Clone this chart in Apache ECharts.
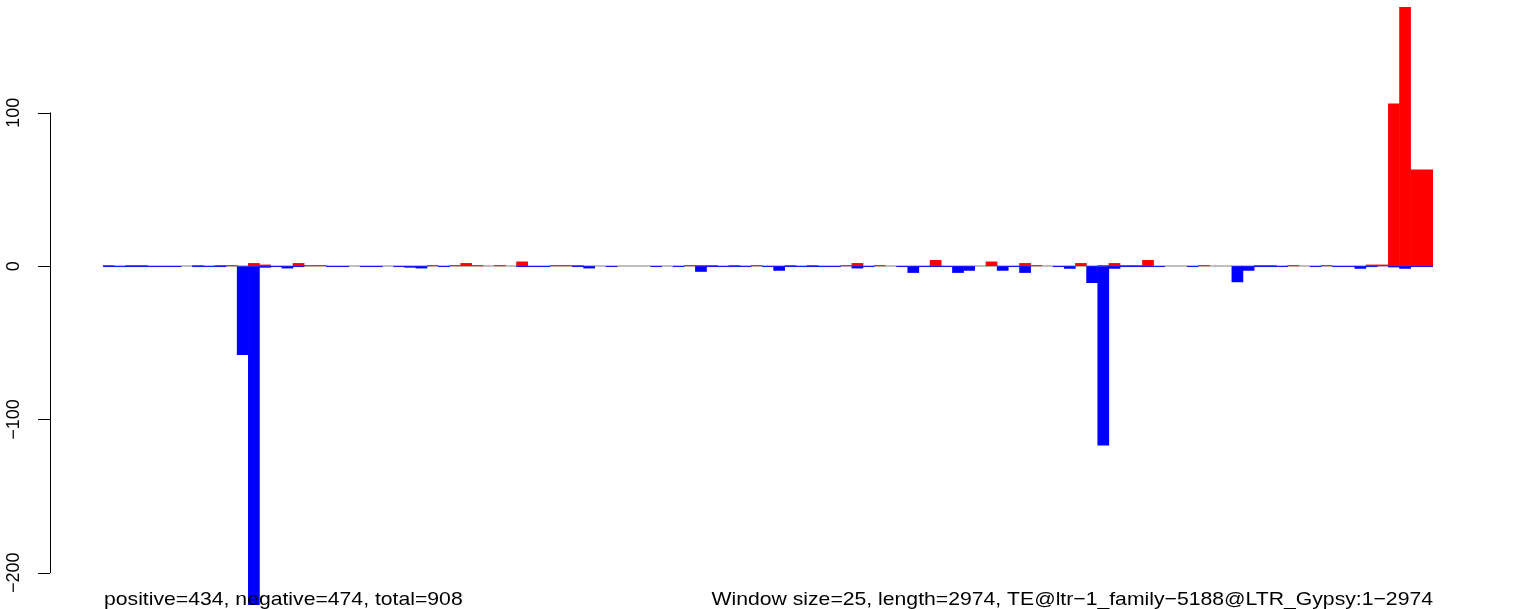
<!DOCTYPE html>
<html>
<head>
<meta charset="utf-8">
<script src="https://cdn.jsdelivr.net/npm/echarts@6/dist/echarts.min.js"></script>
<style>
  html, body { margin: 0; padding: 0; background: #fff; }
  #chart { width: 1536px; height: 609px; }
</style>
</head>
<body>
<div id="chart"></div>
<script>
// ---- data (one bar per 25 bp window, 119 windows) ----
const windowSize = 25;
const teLength = 2974;
const teName = 'TE@ltr\u22121_family\u22125188@LTR_Gypsy:1\u22122974';
const positiveTotal = 434;
const negativeTotal = 474;
const totalReads = 908;

const positiveCounts = [
  0.6, 0, 0.6, 0.6, 0, 0, 0, 0, 0.6, 0,
  0.6, 0.6, 0, 2, 1, 0, 0, 2, 0.6, 0.6,
  0, 0, 0, 0, 0, 0, 0, 0, 0, 0.6,
  0, 0.6, 2, 0.6, 0, 0.6, 0, 3, 0, 0,
  0.6, 0.6, 0.6, 0, 0, 0, 0, 0, 0, 0,
  0, 0, 0.6, 0.6, 0.6, 0, 0.6, 0, 0.6, 0,
  0, 0.6, 0, 0.6, 0, 0, 0.6, 2, 0, 0.6,
  0, 0, 0, 0, 4, 0, 0, 0, 0, 3,
  0, 0, 2, 0.6, 0, 0, 0, 2, 0, 0.6,
  2, 0.6, 0.6, 4, 0, 0, 0, 0, 0.6, 0,
  0, 0, 0, 0.6, 0.6, 0, 0.6, 0, 0, 0.6,
  0, 0, 0, 1, 1, 106, 169, 63, 63
];

const negativeCounts = [
  -0.6, -0.6, -0.6, -0.6, -0.6, -0.6, -0.6, 0, -0.6, -0.6,
  -0.6, 0, -58, -221, -1, -0.6, -1.5, -0.6, 0, 0,
  -0.6, -0.6, 0, -0.6, -0.6, 0, -0.6, -1, -1.5, 0,
  -0.6, 0, 0, 0, 0, 0, 0, -0.6, -0.6, -0.6,
  0, 0, -0.6, -1.5, 0, -0.6, 0, 0, 0, -0.6,
  0, -0.6, 0, -3.7, -0.6, -0.6, -0.6, -0.6, 0, -0.6,
  -3, -0.6, -0.6, -0.6, -0.6, -0.6, 0, -1.5, -0.6, 0,
  0, -0.6, -4.4, -0.6, -0.6, -0.6, -4.4, -3, 0, 0,
  -3, -0.6, -4.4, 0, 0, -0.6, -1.7, 0, -11, -117,
  -1.7, -0.6, -0.6, -0.6, -0.6, 0, 0, -0.6, 0, 0,
  0, -10.5, -3, -0.6, -0.6, -0.6, 0, 0, -0.6, 0,
  -0.6, -0.6, -1.7, -0.6, 0, -0.8, -1.7, -0.6, -0.6
];

const windowLabels = positiveCounts.map((_, i) => String(i + 1));
const yTickValues = [-200, -100, 0, 100];
const yMin = -221;
const yMax = 169;

const minusSign = v => String(v).replace('-', '\u2212');

const chart = echarts.init(document.getElementById('chart'), null, { renderer: 'canvas' });

chart.setOption({
  animation: false,
  backgroundColor: '#ffffff',
  grid: [
    { left: 103, right: 103, top: 7, bottom: 4 },
    { left: 50, width: 1, top: 112.8, bottom: 36.2 }
  ],
  xAxis: [
    { type: 'category', gridIndex: 0, data: windowLabels, show: false, boundaryGap: true },
    { type: 'value', gridIndex: 1, show: false }
  ],
  yAxis: [
    { type: 'value', gridIndex: 0, min: yMin, max: yMax, show: false },
    {
      type: 'value', gridIndex: 1, position: 'left',
      min: yTickValues[0], max: yTickValues[yTickValues.length - 1], interval: 100,
      axisLine: { show: true, lineStyle: { color: '#000', width: 1 } },
      axisTick: { show: true, length: 12, inside: false, lineStyle: { color: '#000', width: 1 } },
      splitLine: { show: false },
      axisLabel: {
        show: true, rotate: 90, margin: 27,
        fontFamily: 'Liberation Sans', fontSize: 18, color: '#000',
        formatter: minusSign
      }
    }
  ],
  series: [
    {
      name: 'positive', type: 'bar', xAxisIndex: 0, yAxisIndex: 0,
      data: positiveCounts, barWidth: 11.7, barGap: '-100%',
      itemStyle: { color: '#ff0000' }, z: 3,
      markLine: {
        silent: true, symbol: 'none', z: 1, label: { show: false },
        lineStyle: { color: '#aaaaaa', width: 1.5, type: 'solid' },
        data: [{ yAxis: 0 }]
      }
    },
    {
      name: 'negative', type: 'bar', xAxisIndex: 0, yAxisIndex: 0,
      data: negativeCounts, barWidth: 11.7, barGap: '-100%',
      itemStyle: { color: '#0000ff' }, z: 3
    }
  ],
  graphic: [
    {
      type: 'text', x: 104, y: 599.4, scaleX: 1.115, z: 100,
      style: {
        text: 'positive=' + positiveTotal + ', negative=' + negativeTotal + ', total=' + totalReads,
        fontFamily: 'Liberation Sans', fontSize: 19, fill: '#000',
        align: 'left', verticalAlign: 'middle'
      }
    },
    {
      type: 'text', x: 1433, y: 599.4, scaleX: 1.115, z: 100,
      style: {
        text: 'Window size=' + windowSize + ', length=' + teLength + ', ' + teName,
        fontFamily: 'Liberation Sans', fontSize: 19, fill: '#000',
        align: 'right', verticalAlign: 'middle'
      }
    }
  ]
});
</script>
</body>
</html>
